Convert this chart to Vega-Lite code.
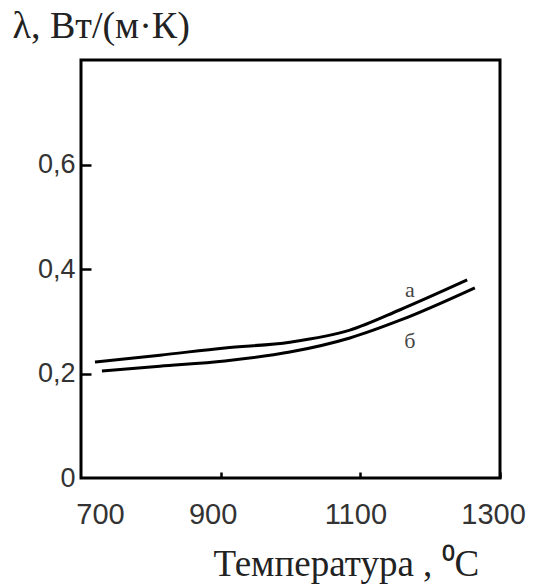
{
  "$schema": "https://vega.github.io/schema/vega-lite/v6.json",
  "autosize": "none",
  "width": 419,
  "height": 418,
  "padding": {"left": 81, "top": 60, "right": 35, "bottom": 109},
  "background": "white",
  "config": {
    "view": {"stroke": "black", "strokeWidth": 3},
    "axis": {"grid": false, "domain": false}
  },
  "datasets": {
    "curves": [
      {"t": 720, "lambda": 0.222, "curve": "а"},
      {"t": 813, "lambda": 0.235, "curve": "а"},
      {"t": 906, "lambda": 0.249, "curve": "а"},
      {"t": 999, "lambda": 0.260, "curve": "а"},
      {"t": 1085, "lambda": 0.283, "curve": "а"},
      {"t": 1157, "lambda": 0.322, "curve": "а"},
      {"t": 1253, "lambda": 0.379, "curve": "а"},
      {"t": 730, "lambda": 0.205, "curve": "б"},
      {"t": 813, "lambda": 0.214, "curve": "б"},
      {"t": 906, "lambda": 0.224, "curve": "б"},
      {"t": 999, "lambda": 0.241, "curve": "б"},
      {"t": 1085, "lambda": 0.268, "curve": "б"},
      {"t": 1157, "lambda": 0.302, "curve": "б"},
      {"t": 1264, "lambda": 0.364, "curve": "б"}
    ],
    "labels": [
      {"t": 1171, "lambda": 0.360, "curve": "а"},
      {"t": 1171, "lambda": 0.262, "curve": "б"}
    ]
  },
  "layer": [
    {
      "data": {"name": "curves"},
      "mark": {"type": "line", "color": "black", "strokeWidth": 3, "interpolate": "monotone"},
      "encoding": {
        "x": {
          "field": "t", "type": "quantitative",
          "scale": {"domain": [700, 1300], "nice": false, "zero": false},
          "axis": {
            "values": [700, 900, 1100, 1300],
            "labelExpr": "format(datum.value, 'd')",
            "labelFlush": false,
            "title": "Температура ,  ⁰C",
            "titleFont": "Liberation Serif", "titleFontSize": 37, "titleFontWeight": "normal", "titleColor": "#222",
            "titleAnchor": "start", "titleAlign": "left", "titleBaseline": "alphabetic",
            "titleX": 132, "titleY": 97,
            "labelFont": "Liberation Sans", "labelFontSize": 29, "labelColor": "#333",
            "labelPadding": 28,
            "labelOffset": {"condition": [
              {"test": "datum.value == 700", "value": 19},
              {"test": "datum.value == 900", "value": -8},
              {"test": "datum.value == 1100", "value": -5}
            ], "value": -7},
            "tickColor": {"condition": {"test": "datum.value == 700", "value": "transparent"}, "value": "black"},
            "tickSize": -6, "tickWidth": 2.5
          }
        },
        "y": {
          "field": "lambda", "type": "quantitative",
          "scale": {"domain": [0, 0.8], "nice": false},
          "axis": {
            "values": [0, 0.2, 0.4, 0.6],
            "labelExpr": "datum.value == 0 ? '0' : replace(format(datum.value, '.1f'), '.', ',')",
            "title": "λ, Вт/(м·К)",
            "titleFont": "Liberation Serif", "titleFontSize": 38, "titleFontWeight": "normal", "titleColor": "#222",
            "titleAngle": 0, "titleAnchor": "start", "titleAlign": "left", "titleBaseline": "alphabetic",
            "titleX": -69, "titleY": -23,
            "labelFont": "Liberation Sans", "labelFontSize": 27, "labelColor": "#333",
            "labelPadding": 16,
            "tickColor": {"condition": {"test": "datum.value == 0", "value": "transparent"}, "value": "black"},
            "tickSize": -10, "tickWidth": 2.5
          }
        },
        "detail": {"field": "curve"}
      }
    },
    {
      "data": {"name": "labels"},
      "mark": {"type": "text", "font": "Liberation Serif", "fontSize": 22, "color": "#444"},
      "encoding": {
        "x": {"field": "t", "type": "quantitative"},
        "y": {"field": "lambda", "type": "quantitative"},
        "text": {"field": "curve"}
      }
    }
  ]
}
